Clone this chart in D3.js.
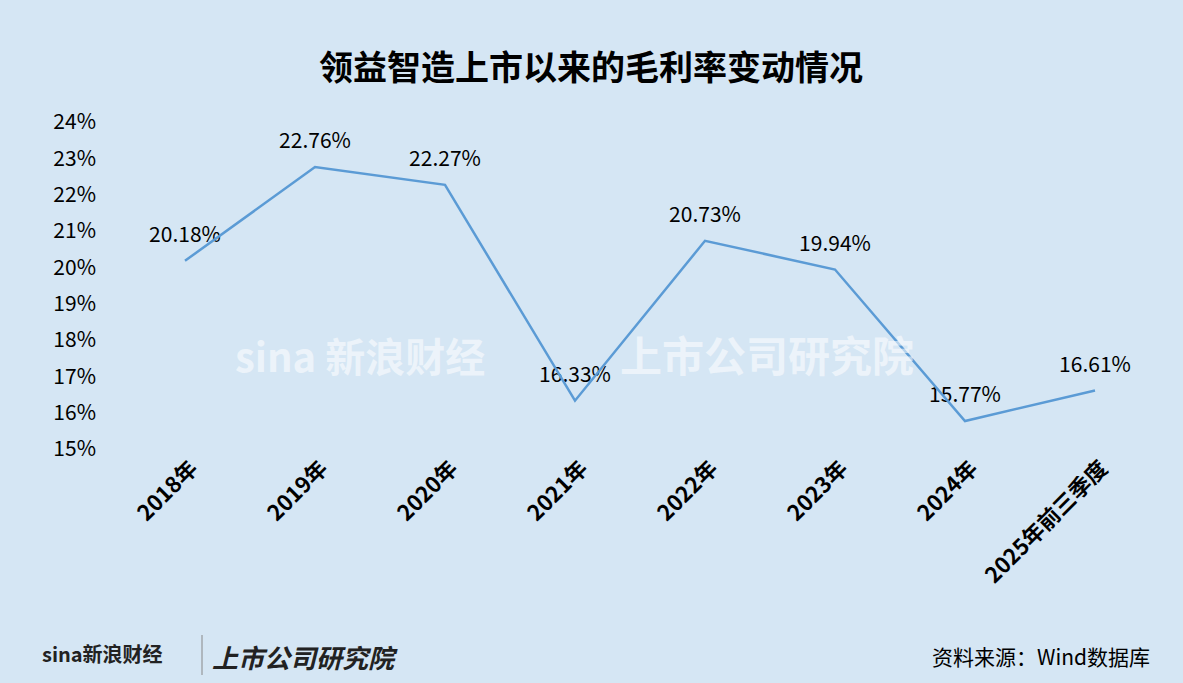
<!DOCTYPE html>
<html><head><meta charset="utf-8">
<script src="https://cdn.jsdelivr.net/npm/d3@7"></script>
<style>body{margin:0;background:#d5e6f4}</style>
</head><body>
<svg id="c" width="1183" height="683"></svg>
<script>
const categories = ["2018年","2019年","2020年","2021年","2022年","2023年","2024年","2025年前三季度"];
const margins = [20.18, 22.76, 22.27, 16.33, 20.73, 19.94, 15.77, 16.61];
const yTicks = [15,16,17,18,19,20,21,22,23,24];

const svg = d3.select("#c");
const font = "'Noto Sans CJK SC', sans-serif";
svg.append("rect").attr("width",1183).attr("height",683).attr("fill","#d5e6f4");

svg.append("text").attr("x",591).attr("y",80).attr("text-anchor","middle")
  .attr("font-family",font).attr("font-weight","bold").attr("font-size",34)
  .text("领益智造上市以来的毛利率变动情况");

const x = d3.scaleBand().domain(categories).range([120,1160]);
const y = d3.scaleLinear().domain([15,24]).range([449,122]);

const g = svg.append("g").attr("font-family",font);
g.selectAll(".yt").data(yTicks).enter().append("text")
  .attr("x",96).attr("y",d=>y(d)).attr("dy","0.35em").attr("text-anchor","end")
  .attr("font-size",21).text(d=>d+"%");

g.selectAll(".xt").data(categories).enter().append("text")
  .attr("transform",d=>`translate(${x(d)+x.bandwidth()/2+14},${470}) rotate(-45)`)
  .attr("text-anchor","end").attr("font-weight","bold").attr("font-size",22)
  .text(d=>d);

const line = d3.line().x((d,i)=>x(categories[i])+x.bandwidth()/2).y(d=>y(d));
svg.append("path").datum(margins).attr("d",line).attr("fill","none")
  .attr("stroke","#5b9bd5").attr("stroke-width",2.5);

g.selectAll(".lb").data(margins).enter().append("text")
  .attr("x",(d,i)=>x(categories[i])+x.bandwidth()/2)
  .attr("y",d=>y(d)-19).attr("text-anchor","middle").attr("font-size",21)
  .text(d=>d.toFixed(2)+"%");

// watermark
svg.append("text").attr("x",235).attr("y",372).attr("font-family",font).attr("font-size",40)
  .attr("font-weight","bold").attr("fill","#fff").attr("opacity",0.55).text("sina 新浪财经");
svg.append("text").attr("x",620).attr("y",372).attr("font-family",font).attr("font-size",42)
  .attr("font-weight","bold").attr("fill","#fff").attr("opacity",0.55).text("上市公司研究院");

// footer
svg.append("text").attr("x",42).attr("y",662).attr("font-family",font).attr("font-size",20)
  .attr("font-weight","bold").attr("fill","#222").text("sina新浪财经");
svg.append("line").attr("x1",202).attr("x2",202).attr("y1",635).attr("y2",675).attr("stroke","#888");
svg.append("text").attr("x",212).attr("y",668).attr("font-family",font).attr("font-size",26)
  .attr("font-weight","bold").attr("font-style","italic").attr("fill","#222").text("上市公司研究院");
svg.append("text").attr("x",1150).attr("y",665).attr("text-anchor","end").attr("font-family",font)
  .attr("font-size",21).text("资料来源：Wind数据库");
</script>
</body></html>
